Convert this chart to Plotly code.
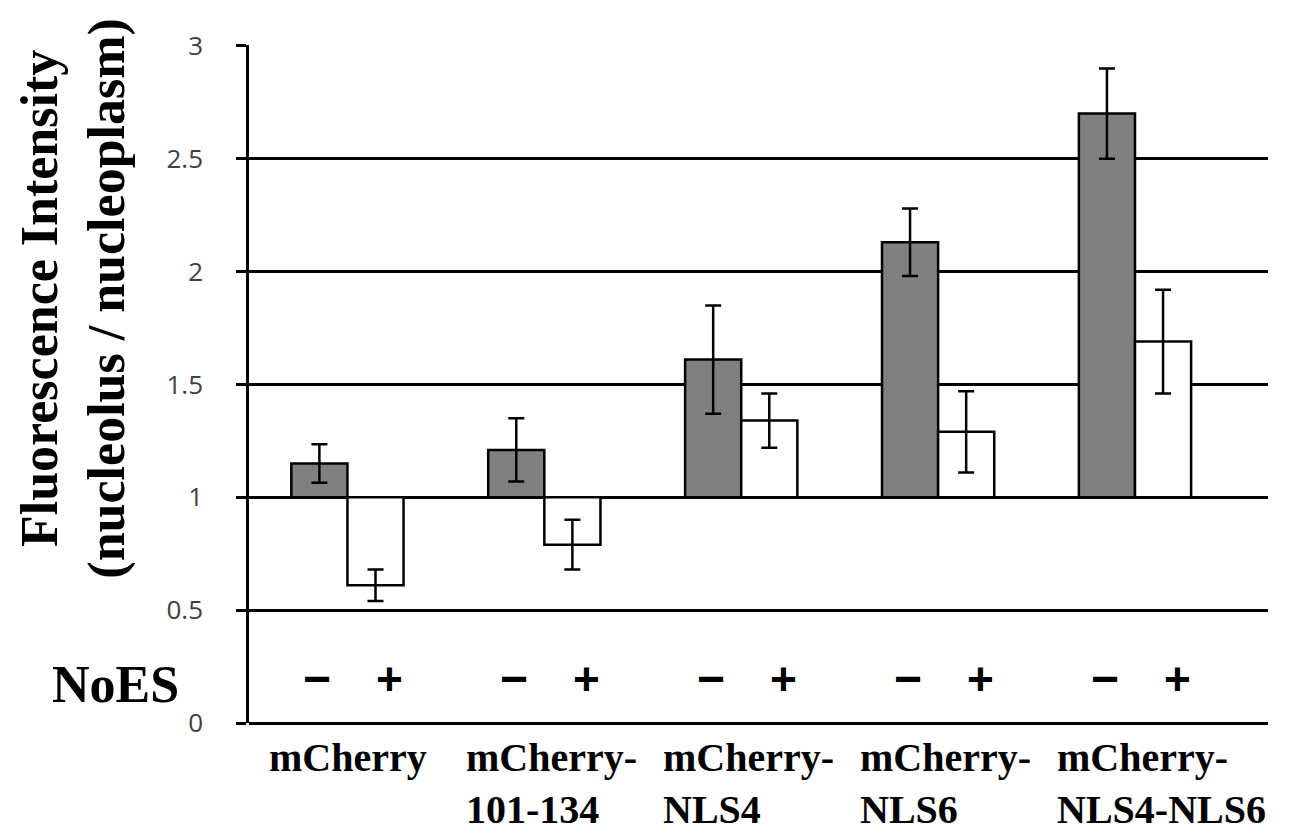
import plotly.graph_objects as go

categories = ["mCherry", "mCherry-101-134", "mCherry-NLS4", "mCherry-NLS6", "mCherry-NLS4-NLS6"]
category_labels = ["mCherry", "mCherry-<br>101-134", "mCherry-<br>NLS4", "mCherry-<br>NLS6", "mCherry-<br>NLS4-NLS6"]
minus_values = [1.15, 1.21, 1.61, 2.13, 2.70]
minus_errors = [0.085, 0.14, 0.24, 0.15, 0.20]
plus_values = [0.61, 0.79, 1.34, 1.29, 1.69]
plus_errors = [0.07, 0.11, 0.12, 0.18, 0.23]
baseline = 1.0
tick_vals = [0, 0.5, 1, 1.5, 2, 2.5, 3]
tick_text = ["0", "0.5", "1", "1.5", "2", "2.5", "3"]

LW = 2.5

fig = go.Figure()
fig.add_trace(go.Bar(
    x=categories, y=[v - baseline for v in minus_values], base=baseline,
    marker=dict(color="#808080", line=dict(color="black", width=LW)),
    error_y=dict(type="data", array=minus_errors, color="black", thickness=LW, width=8),
    name="−", showlegend=False,
))
fig.add_trace(go.Bar(
    x=categories, y=[v - baseline for v in plus_values], base=baseline,
    marker=dict(color="white", line=dict(color="black", width=LW)),
    error_y=dict(type="data", array=plus_errors, color="black", thickness=LW, width=8),
    name="+", showlegend=False,
))

annotations = []
for cat, lab in zip(categories, category_labels):
    annotations.append(dict(
        x=cat, xref="x", y=-0.015, yref="paper", text="<b>" + lab + "</b>", showarrow=False,
        xanchor="left", yanchor="top", xshift=-80, align="left",
        font=dict(family="Liberation Serif", size=40, color="black"),
    ))
    annotations.append(dict(
        x=cat, xref="x", y=0.195, yref="y", text="<b>−</b>", showarrow=False,
        xanchor="center", yanchor="middle", xshift=-30,
        font=dict(family="Liberation Sans", size=48, color="black"),
    ))
    annotations.append(dict(
        x=cat, xref="x", y=0.195, yref="y", text="<b>+</b>", showarrow=False,
        xanchor="center", yanchor="middle", xshift=42,
        font=dict(family="Liberation Sans", size=46, color="black"),
    ))

annotations.append(dict(
    x=-0.131, xref="paper", y=0.17, yref="y", text="<b>NoES</b>", showarrow=False,
    xanchor="center", yanchor="middle",
    font=dict(family="Liberation Serif", size=52, color="black"),
))
annotations.append(dict(
    x=-0.172, xref="paper", y=0.627, yref="paper",
    text="<b>Fluorescence Intensity<br>(nucleolus / nucleoplasm)</b>",
    showarrow=False, textangle=-90, xanchor="center", yanchor="middle",
    font=dict(family="Liberation Serif", size=52, color="black"),
))

fig.update_layout(
    width=1291, height=832,
    margin=dict(l=241, r=31, t=37, b=117),
    paper_bgcolor="white", plot_bgcolor="white",
    barmode="group", bargap=0.43, bargroupgap=0,
    showlegend=False,
    annotations=annotations,
    xaxis=dict(showticklabels=False, showgrid=False, zeroline=False, showline=False, ticks=""),
    yaxis=dict(
        range=[0, 3.004], tickvals=tick_vals, ticktext=tick_text,
        showgrid=True, gridcolor="black", gridwidth=LW,
        zeroline=True, zerolinecolor="black", zerolinewidth=LW,
        showline=True, linecolor="black", linewidth=LW,
        ticks="outside", ticklen=10, tickwidth=LW, tickcolor="black",
        ticklabelstandoff=28,
        tickfont=dict(family="Open Sans", size=26, color="#404040"),
    ),
)

fig.write_html("out.html")
